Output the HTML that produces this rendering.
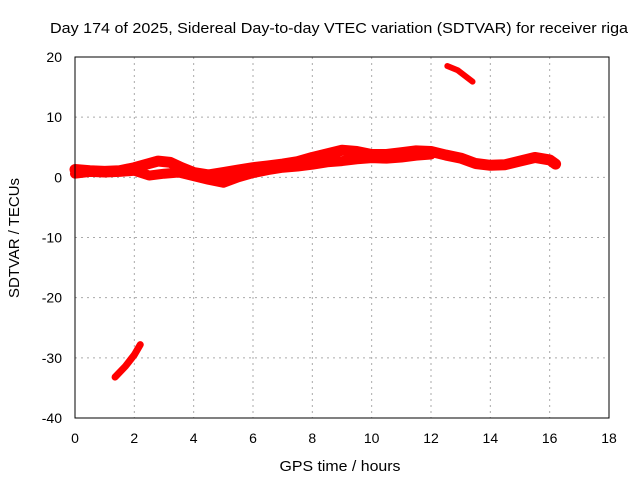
<!DOCTYPE html>
<html><head><meta charset="utf-8"><style>
body{margin:0;background:#fff}
svg{display:block;font-family:"Liberation Sans",sans-serif;font-size:14px}
</style></head><body>
<svg id="chart" width="640" height="480">
<text x="339" y="33" text-anchor="middle" textLength="578" lengthAdjust="spacingAndGlyphs" style="font-size:15px">Day 174 of 2025, Sidereal Day-to-day VTEC variation (SDTVAR) for receiver riga</text>
<text x="340" y="471" text-anchor="middle" textLength="121" lengthAdjust="spacingAndGlyphs" style="font-size:15px">GPS time / hours</text>
<text transform="translate(19,238) rotate(-90)" text-anchor="middle" textLength="120" lengthAdjust="spacingAndGlyphs" style="font-size:15px">SDTVAR / TECUs</text>
<g id="grid"></g><g id="ticks"></g><g id="marks"></g>
<rect x="75" y="57" width="534" height="361" fill="none" stroke="#000"/>
</svg>
<script>
const xTicks=[0,2,4,6,8,10,12,14,16,18];
const yTicks=[-40,-30,-20,-10,0,10,20];
const upperT=[0,0.5,1,1.5,2,2.5,2.8,3.2,3.6,4,4.5,5,5.5,6,6.5,7,7.5,8,8.5,9,9.5,10,10.5,11,11.5,12,12.5,13,13.5,14,14.5,15,15.5,16,16.2];
const upperV=[1.3,1.1,1.0,1.1,1.6,2.3,2.7,2.5,1.6,0.8,0.4,0.8,1.2,1.6,1.9,2.2,2.6,3.3,3.9,4.5,4.3,3.8,3.8,4.1,4.4,4.3,3.7,3.2,2.3,2.0,2.1,2.7,3.3,2.9,2.2];
const lowerT=[0,0.5,1,1.5,2,2.5,3,3.5,4,4.5,5,5.5,6,6.5,7,7.5,8,8.5,9,9.5,10,10.5,11,11.5,12];
const lowerV=[0.6,0.9,0.8,0.9,1.1,0.3,0.6,0.8,0.2,-0.4,-0.9,0.0,0.7,1.2,1.6,1.8,2.1,2.5,2.7,3.0,3.2,3.1,3.3,3.6,3.8];
const outAT=[12.55,12.9,13.4];
const outAV=[18.5,17.8,15.9];
const outBT=[1.35,1.7,2.0,2.2];
const outBV=[-33.2,-31.4,-29.5,-27.8];
const X=t=>75+t*534/18, Y=v=>418-(v+40)*361/60;
const ns='http://www.w3.org/2000/svg';
const g=document.getElementById('grid'),tk=document.getElementById('ticks'),m=document.getElementById('marks');
function el(p,tag,a){const e=document.createElementNS(ns,tag);for(const k in a)e.setAttribute(k,a[k]);p.appendChild(e);return e;}
xTicks.forEach(t=>{
 if(t>0&&t<18){const l=el(g,'line',{x1:X(t),x2:X(t),y1:57,y2:418,stroke:'#aaa','stroke-dasharray':'2,4'});
 
 }
 const s=el(tk,'text',{x:X(t),y:443,'text-anchor':'middle'});s.textContent=t;
 
 
});
yTicks.forEach(v=>{
 if(v>-40&&v<20){const l=el(g,'line',{x1:75,x2:609,y1:Y(v),y2:Y(v),stroke:'#aaa','stroke-dasharray':'2,4'});
 
 }
 const s=el(tk,'text',{x:62,y:Y(v)+5,'text-anchor':'end'});s.textContent=v;
 
 
});
function track(T,V,w,name){
 const p=el(m,'polyline',{points:T.map((t,i)=>X(t)+','+Y(V[i])).join(' '),fill:'none',stroke:'#f00','stroke-width':w,'stroke-linejoin':'round','stroke-linecap':'round'});
 
 
}
track(upperT,upperV,11,'series-upper-track');
track(lowerT,lowerV,10,'series-lower-track');
track(outAT,outAV,6,'series-outlier-high');
track(outBT,outBV,7,'series-outlier-low');
</script>
</body></html>
